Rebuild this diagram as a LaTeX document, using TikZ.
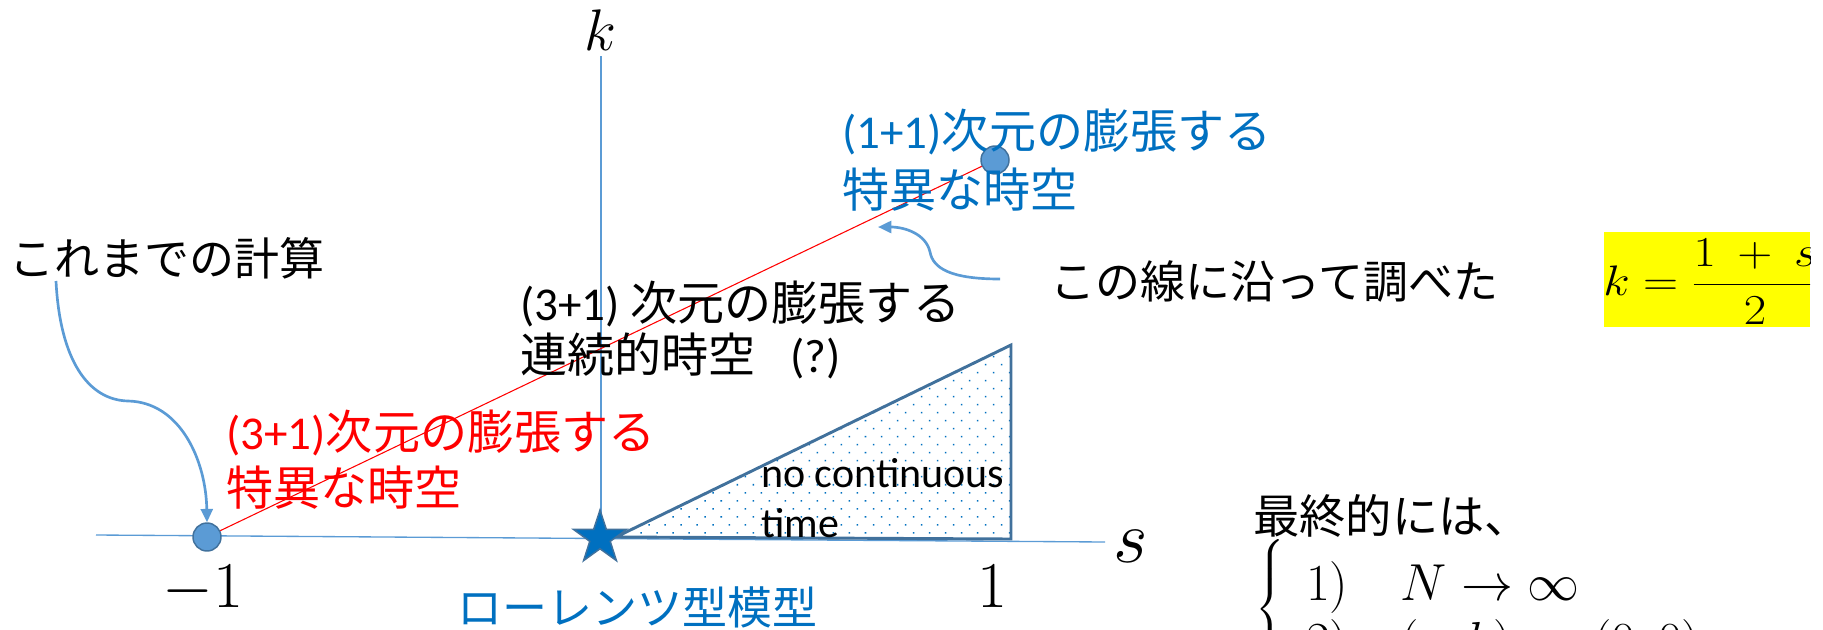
\RequirePackage{fix-cm}
\documentclass[tikz,border=0pt]{standalone}
\usepackage{amsmath}
\usepackage{fontspec}
\usepackage{graphicx}
\newfontfamily\jp{Noto Sans CJK JP}
\newfontfamily\calib{Carlito}
\usetikzlibrary{shapes.geometric,arrows.meta,patterns.meta}
\definecolor{axblue}{HTML}{5B9BD5}
\definecolor{edgeblue}{HTML}{41719C}
\definecolor{txtblue}{HTML}{0070C0}
\definecolor{hl}{HTML}{FFFF00}
\newcommand\jpsz{\fontsize{33.75}{40}\selectfont}
\newcommand\jpbigsz{\fontsize{35.3}{42}\selectfont}
\tikzset{
  jptext/.style={anchor=base west, inner sep=0pt, font=\jp\jpsz},
  jpbig/.style={anchor=base west, inner sep=0pt, font=\jp\jpbigsz},
  axlabel/.style={anchor=base, inner sep=0pt},
  axisline/.style={draw=axblue, line width=1pt},
  dotnode/.style={circle, minimum size=21pt, inner sep=0pt, fill=axblue, draw=edgeblue, line width=1.1pt},
  callout/.style={draw=axblue, line width=2pt, -{Triangle[length=10pt,width=9pt]}},
  nctext/.style={anchor=base west, inner sep=0pt, font=\calib\fontsize{31.5}{36}\selectfont},
}
\begin{document}
\begin{tikzpicture}[x=0.75pt, y=-0.75pt]
\useasboundingbox (0,0) rectangle (1823,629);
\clip (0,0) rectangle (1823,629);
% axes
\coordinate (sl) at (96,535);
\coordinate (sr) at (1105,542);
\coordinate (kb) at (601,537);
\coordinate (kt) at (601,56);
\draw[axisline] (sl) -- (sr);
\draw[axisline] (kb) -- (kt);
\node[axlabel, font=\fontsize{44}{50}\selectfont] (klab) at (600,50) {$k$};
\node[axlabel, font=\fontsize{56}{60}\selectfont] (slab) at (1131,562) {$s$};
\node[axlabel, font=\fontsize{49}{56}\selectfont] (m1) at (203,607) {$-1$};
\node[axlabel, font=\fontsize{49}{56}\selectfont] (p1) at (992,607) {$1$};
% forbidden triangle
\fill[pattern={Dots[distance=8.5pt,angle=45,radius=0.8pt]}, pattern color=txtblue]
  (616,537) -- (1011,345) -- (1011,539) -- cycle;
\draw[draw=edgeblue, line width=2.2pt, line join=miter] (616,537) -- (1011,345) -- (1011,539) -- cycle;
\node[nctext] (nc1) at (761,487) {no continuous};
\node[nctext] (nc2) at (761,537) {time};
% points
\node[dotnode] (pm1) at (207,537) {};
\node[dotnode] (p11) at (995,160) {};
\draw[red, line width=0.8pt] (pm1) -- (p11);
\node[star, star points=5, star point ratio=2.6, minimum size=42pt, inner sep=0pt,
      fill=txtblue, draw=edgeblue, line width=1.1pt] (lor) at (600,538) {};
% texts
\node[jptext] (calc) at (9,275) {これまでの計算};
\node[jpbig, text=txtblue] (b1) at (842,148) {{\calib (1+1)}次元の膨張する};
\node[jpbig, text=txtblue] (b2) at (842,207) {特異な時空};
\node[jptext] (line) at (1050,298) {この線に沿って調べた};
\node[jpbig] (c1) at (520,320) {{\calib (3+1) }次元の膨張する};
\node[jpbig] (c2) at (520,372) {連続的時空\hspace{26pt}{\calib (?)}};
\node[jpbig, text=red] (r1) at (226,449) {{\calib (3+1)}次元の膨張する};
\node[jpbig, text=red] (r2) at (226,505) {特異な時空};
\node[jptext, text=txtblue] (lorlab) at (457,624) {ローレンツ型模型};
\node[jptext, font=\jp\fontsize{34.7}{40}\selectfont] (fin) at (1253,533) {最終的には、};
\node[anchor=base west, inner sep=0pt] (cases) at (1255,622)
  {\fontsize{39}{43.5}\selectfont$\left\{\begin{array}{@{\hspace{16pt}}l@{}}\rule{0pt}{44pt}1)\quad N\to\infty\\ 2)\quad (s,k)\to(0,0)\end{array}\right.$};
% callout arrows
\coordinate (a1s) at (56,281);
\draw[callout] (a1s) .. controls (60,360) and (88,400) .. (128,401)
  .. controls (180,402) and (206,460) .. (pm1.north);
\coordinate (a2s) at (1000,279);
\coordinate (a2e) at (878,227);
\draw[callout] (a2s) .. controls (950,279) and (933,268) .. (930,252)
  .. controls (926,234) and (905,227) .. (a2e);
% formula
\begin{scope}
\clip (1604,232) rectangle (1810,327);
\fill[hl] (1604,232) rectangle (1810,327);
\node[anchor=base west, inner sep=0pt] (eq) at (1603,295)
  {\scalebox{1.14}[1]{\fontsize{32}{38}\selectfont$\displaystyle k=\frac{1\mkern4mu+\mkern4mu s}{2}$}};
\end{scope}
\end{tikzpicture}
\end{document}
